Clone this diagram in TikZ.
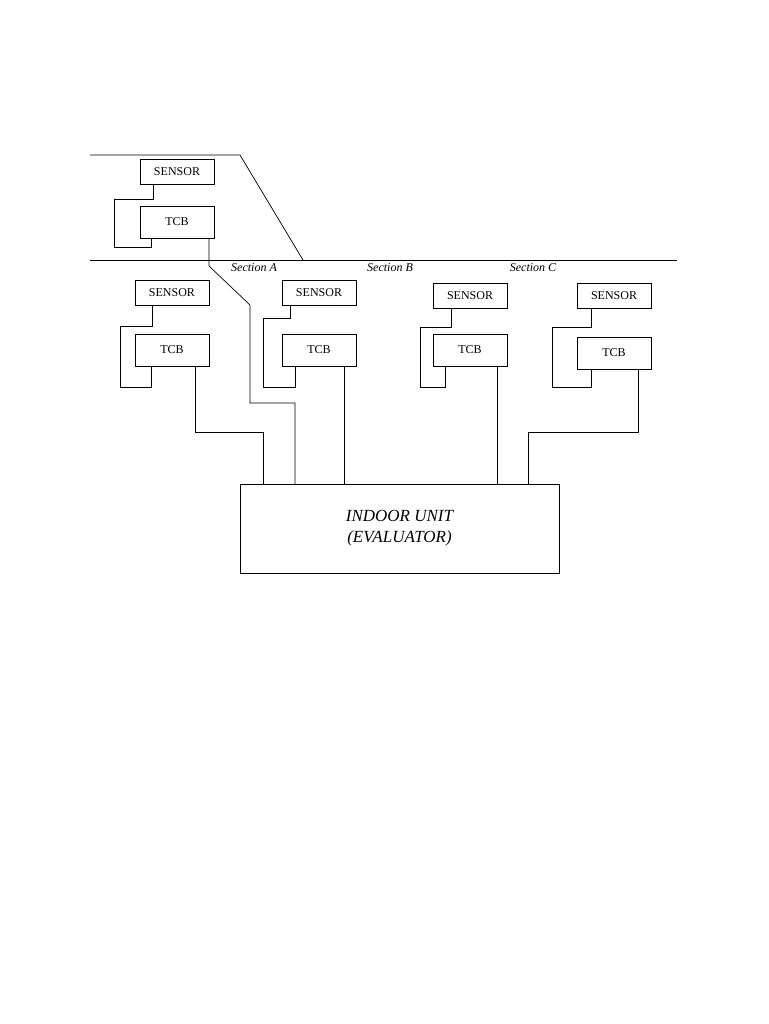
\documentclass[tikz,border=0pt]{standalone}
\usepackage{fontspec}
\setmainfont{Liberation Serif}
\begin{document}
\begin{tikzpicture}[
                x=1pt, y=-1pt,
                unit/.style={draw, fill=white, inner sep=0pt, font=\fontsize{12}{14}\selectfont},
                sensor/.style={unit, minimum width=74pt, minimum height=25pt},
                tcb/.style={unit, minimum width=74pt, minimum height=32pt},
                section/.style={font=\itshape\fontsize{12}{14}\selectfont},
                wire/.style={line width=0.7pt}
            ]
                \useasboundingbox (0,0) rectangle (768,1024);

                % floors
                \coordinate (f1) at (90,155);
                \coordinate (f2) at (240,155);
                \coordinate (f3) at (303,260);
                \coordinate (g1) at (90,260);
                \coordinate (g2) at (677,260);
                \draw[wire] (f1) -- (f2) -- (f3);
                \draw[wire] (g1) -- (g2);

                \node[section] (secA) at (254,268) {Section A};
                \node[section] (secB) at (390,268) {Section B};
                \node[section] (secC) at (533,268) {Section C};

                % upper floor
                \node[sensor] (s0) at (177,172) {SENSOR};
                \node[tcb] (t0) at (177,222) {TCB};
                \draw[wire] (153,185) |- (114,199) |- (151,247) -- (151,238);

                % lower floor
                \node[sensor] (s1) at (172,293) {SENSOR};
                \node[tcb] (t1) at (172,350) {TCB};
                \node[sensor] (s2) at (319,293) {SENSOR};
                \node[tcb] (t2) at (319,350) {TCB};
                \node[sensor] (s3) at (470,296) {SENSOR};
                \node[tcb] (t3) at (470,350) {TCB};
                \node[sensor] (s4) at (614,296) {SENSOR};
                \node[tcb] (t4) at (614,353) {TCB};

                \draw[wire] (152,305) |- (120,326) |- (151,387) -- (151,366);
                \draw[wire] (290,305) |- (263,318) |- (295,387) -- (295,366);
                \draw[wire] (451,309) |- (420,327) |- (445,387) -- (445,366);
                \draw[wire] (591,309) |- (552,327) |- (591,387) -- (591,369);

                % indoor unit
                \node[draw, minimum width=319pt, minimum height=89pt, align=center,
                      font=\itshape\fontsize{17}{21}\selectfont] (iu) at (399.5,528.5)
                      {INDOOR UNIT\\(EVALUATOR)};

                \draw[wire] (209,238) -- (209,266) -- (250,305) |- (295,403) -- (295,484);
                \draw[wire] (195,366) |- (263,432) -- (263,484);
                \draw[wire] (344,366) -- (344,484);
                \draw[wire] (497,366) -- (497,484);
                \draw[wire] (638,369) |- (528,432) -- (528,484);
            \end{tikzpicture}
\end{document}
